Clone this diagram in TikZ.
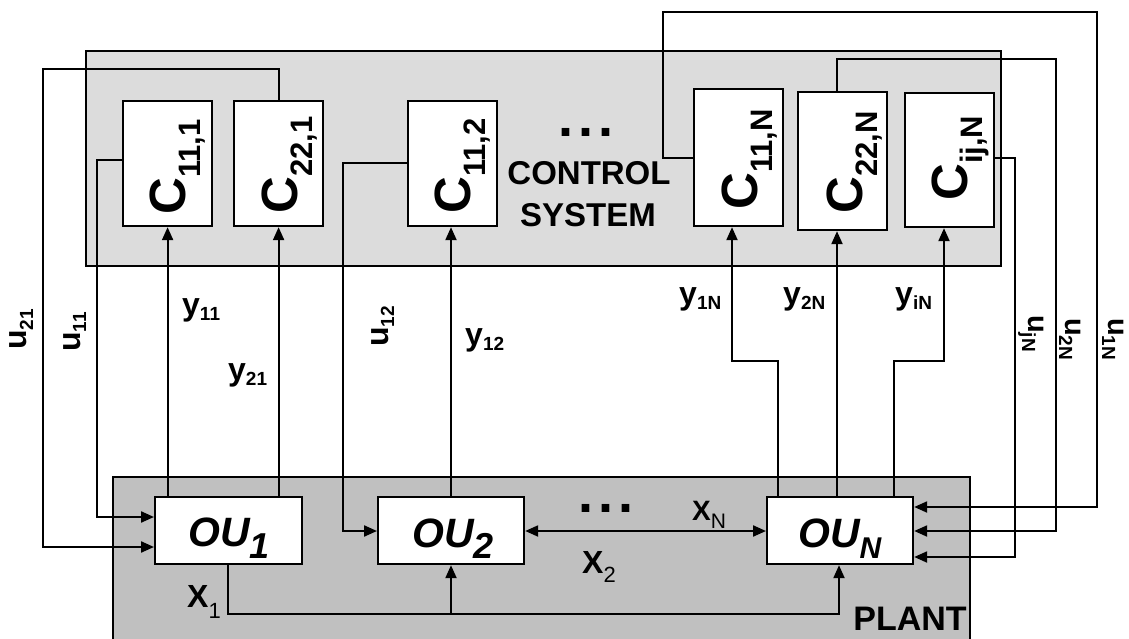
\documentclass[tikz,border=0pt]{standalone}
\usepackage{fontspec}
\setmainfont{Liberation Sans}
\usetikzlibrary{arrows.meta}
\newcommand\fs[1]{\fontsize{#1}{#1}\selectfont}
\definecolor{csgray}{HTML}{DCDCDC}
\definecolor{plgray}{HTML}{C0C0C0}
\tikzset{
  ln/.style={line width=2.2pt},
  arr/.style={ln, -{Triangle[length=13pt,width=11pt]}},
  darr/.style={ln, {Triangle[length=13pt,width=11pt]}-{Triangle[length=13pt,width=11pt]}},
  cbox/.style={draw, line width=2.2pt, fill=white, anchor=north west, inner sep=0pt},
  lab/.style={inner sep=0pt, font=\bfseries},
}
\begin{document}
\begin{tikzpicture}[x=1pt, y=-1pt]
\useasboundingbox (0,0) rectangle (1129,639);
% background regions
\node[cbox, fill=csgray, minimum width=915pt, minimum height=215pt] (cs) at (85,50) {};
\fill[plgray] (113,477) rectangle (970,639);
\draw[ln] (113,640) -- (113,477) -- (970,477) -- (970,640);

% controller boxes
\node[cbox, minimum width=89pt, minimum height=125pt] (c111) at (122,100) {};
\node[cbox, minimum width=89pt, minimum height=125pt] (c221) at (233,100) {};
\node[cbox, minimum width=89pt, minimum height=125pt] (c112) at (407,100) {};
\node[cbox, minimum width=89pt, minimum height=137pt] (c11n) at (693,88) {};
\node[cbox, minimum width=89pt, minimum height=138pt] (c22n) at (797,91) {};
\node[cbox, minimum width=89pt, minimum height=134pt] (cijn) at (904,92) {};

% plant units
\node[cbox, minimum width=147pt, minimum height=67pt] (ou1) at (154,496) {};
\node[cbox, minimum width=146pt, minimum height=67pt] (ou2) at (377,496) {};
\node[cbox, minimum width=146pt, minimum height=67pt] (oun) at (766,496) {};

% controller labels
\node[lab, rotate=90, anchor=base west] at (185,215) {\fs{51}C\raisebox{-15pt}{\fs{31}11,1}};
\node[lab, rotate=90, anchor=base west] at (297,214) {\fs{51}C\raisebox{-15pt}{\fs{31}22,1}};
\node[lab, rotate=90, anchor=base west] at (470,214) {\fs{51}C\raisebox{-15pt}{\fs{31}11,2}};
\node[lab, rotate=90, anchor=base west] at (757,210) {\fs{51}C\raisebox{-15pt}{\fs{31}11,N}};
\node[lab, rotate=90, anchor=base west] at (862,214) {\fs{51}C\raisebox{-15pt}{\fs{31}22,N}};
\node[lab, rotate=90, anchor=base west] at (967,201) {\fs{51}C\raisebox{-15pt}{\fs{31}ij,N}};

% plant unit labels
\node[lab, anchor=base west] at (188,546) {\fs{41}\itshape OU\raisebox{-12pt}{\fs{36}1}};
\node[lab, anchor=base west] at (412,547) {\fs{41}\itshape OU\raisebox{-11pt}{\fs{36}2}};
\node[lab, anchor=base west] at (798,547) {\fs{41}\itshape OU\raisebox{-11pt}{\fs{30}N}};

% region labels
\node[lab, anchor=base west] at (558,137) {\fs{54}.\kern5pt.\kern5pt.};
\node[lab, anchor=base] at (589,185) {\fs{33}CONTROL};
\node[lab, anchor=base] at (588,226) {\fs{33}SYSTEM};
\node[lab, anchor=base west] at (578,512) {\fs{54}.\kern5pt.\kern5pt.};
\node[lab, anchor=base] at (910,630) {\fs{34}PLANT};

% measurement connectors
\draw[arr] (ou1.north -| c111.south) -- (c111.south);
\draw[arr] (ou1.north -| c221.south) -- (c221.south);
\draw[arr] (ou2.north -| 451,0) -- (c112.south -| 451,0);
\draw[arr] (oun.north -| 778,0) |- (732,361) -- (c11n.south -| 732,0);
\draw[arr] (oun.north -| 837,0) -- (c22n.south -| 837,0);
\draw[arr] (oun.north -| 894,0) |- (944,361) -- (cijn.south -| 944,0);

% control connectors
\draw[arr] (c221.north) |- (43,69) |- (ou1.west |- 0,547);
\draw[arr] (c111.west |- 0,160) -| (97,517) -- (ou1.west |- 0,517);
\draw[arr] (c112.west |- 0,163) -| (343,531) -- (ou2.west |- 0,531);
\draw[arr] (c11n.west |- 0,158) -| (663,12) -| (1097,507) -- (oun.east |- 0,507);
\draw[arr] (c22n.north -| 837,0) |- (1056,59) |- (oun.east |- 0,531);
\draw[arr] (cijn.east |- 0,158) -| (1015,557) -- (oun.east |- 0,557);

% interaction connectors
\coordinate (j2) at (451,614);
\draw[arr] (ou1.south -| 228,0) |- (839,614) -- (oun.south -| 839,0);
\draw[arr] (j2) -- (ou2.south -| 451,0);
\draw[darr] (ou2.east |- 0,531) -- (oun.west |- 0,531);

% signal labels
\node[lab, anchor=base west] at (182,315) {\fs{32}y\raisebox{-5pt}{\fs{19}11}};
\node[lab, anchor=base west] at (228,380) {\fs{32}y\raisebox{-5pt}{\fs{19}21}};
\node[lab, anchor=base west] at (465,345) {\fs{32}y\raisebox{-5pt}{\fs{19}12}};
\node[lab, anchor=base west] at (679,304) {\fs{32}y\raisebox{-5pt}{\fs{19}1N}};
\node[lab, anchor=base west] at (783,304) {\fs{32}y\raisebox{-5pt}{\fs{19}2N}};
\node[lab, anchor=base west] at (895,304) {\fs{32}y\raisebox{-5pt}{\fs{19}iN}};
\node[lab, rotate=90, anchor=base west] at (27,350) {\fs{32}u\raisebox{-6pt}{\fs{19}21}};
\node[lab, rotate=90, anchor=base west] at (80,352) {\fs{32}u\raisebox{-6pt}{\fs{19}11}};
\node[lab, rotate=90, anchor=base west] at (388,347) {\fs{32}u\raisebox{-6pt}{\fs{19}12}};
\node[lab, rotate=-90, anchor=base west] at (1028,315) {\fs{29}u\raisebox{-6pt}{\fs{19}jN}};
\node[lab, rotate=-90, anchor=base west] at (1065,318) {\fs{29}u\raisebox{-6pt}{\fs{19}2N}};
\node[lab, rotate=-90, anchor=base west] at (1108,318) {\fs{29}u\raisebox{-6pt}{\fs{19}1N}};
\node[lab, anchor=base west] at (187,607) {\fs{32}X\raisebox{-11pt}{\fs{22}\mdseries 1}};
\node[lab, anchor=base west] at (582,573) {\fs{32}X\raisebox{-9pt}{\fs{22}\mdseries 2}};
\node[lab, anchor=base west] at (692,520) {\fs{28}X\raisebox{-8pt}{\fs{21}\mdseries N}};
\end{tikzpicture}
\end{document}
